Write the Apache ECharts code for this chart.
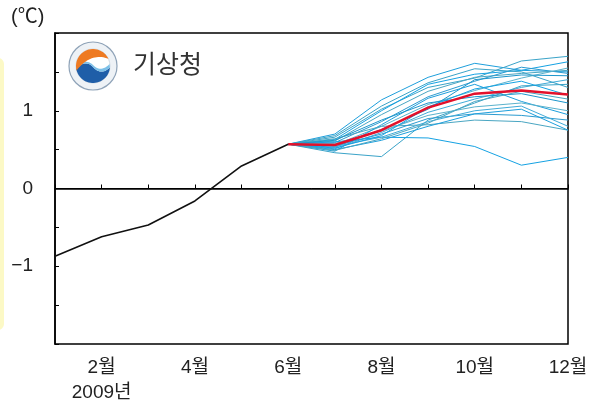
<!DOCTYPE html>
<html>
<head>
<meta charset="utf-8">
<script src="https://cdn.jsdelivr.net/npm/echarts@6/dist/echarts.min.js"></script>
<style>html,body{margin:0;padding:0;background:#fff;}#c{width:600px;height:405px;}</style>
</head>
<body>
<div id="c"></div>
<script>
// ---- data ----
const obsMonths = [1, 2, 3, 4, 5, 6];
const obsValues = [-0.87, -0.62, -0.47, -0.16, 0.29, 0.57];
const fcstMonths = [6, 7, 8, 9, 10, 11, 12];
const meanValues = [0.57, 0.56, 0.75, 1.04, 1.22, 1.26, 1.21];
const m01 = [0.57, 0.70, 1.14, 1.43, 1.61, 1.52, 1.50];
const m02 = [0.57, 0.66, 1.02, 1.30, 1.42, 1.64, 1.70];
const m03 = [0.57, 0.63, 1.00, 1.34, 1.47, 1.52, 1.63];
const m04 = [0.57, 0.61, 0.95, 1.25, 1.43, 1.48, 1.52];
const m05 = [0.57, 0.59, 0.86, 1.18, 1.38, 1.56, 1.48];
const m06 = [0.57, 0.56, 0.80, 1.08, 1.26, 1.42, 1.55];
const m07 = [0.57, 0.53, 0.76, 1.02, 1.40, 1.46, 1.45];
const m08 = [0.57, 0.51, 0.72, 0.98, 1.15, 1.30, 1.40];
const m09 = [0.57, 0.48, 0.82, 1.16, 1.34, 1.12, 0.95];
const m10 = [0.57, 0.46, 0.41, 0.88, 1.10, 1.32, 1.34];
const m11 = [0.57, 0.60, 0.66, 0.65, 0.54, 0.30, 0.40];
const m12 = [0.57, 0.64, 0.80, 0.82, 0.88, 0.86, 0.75];
const m13 = [0.57, 0.55, 0.70, 0.90, 0.96, 0.94, 0.88];
const m14 = [0.57, 0.58, 0.74, 0.94, 1.05, 1.10, 1.00];
const m15 = [0.57, 0.62, 0.88, 1.10, 1.18, 1.22, 1.10];
const m16 = [0.57, 0.54, 0.66, 0.86, 1.00, 1.06, 0.80];
const m17 = [0.57, 0.50, 0.62, 0.80, 0.96, 1.02, 0.75];
const m18 = [0.57, 0.68, 1.06, 1.36, 1.54, 1.50, 1.30];
const m19 = [0.57, 0.52, 0.68, 1.05, 1.28, 1.38, 1.20];
const m20 = [0.57, 0.49, 0.64, 0.84, 1.12, 1.25, 1.15];
const members = [m01, m02, m03, m04, m05, m06, m07, m08, m09, m10,
                 m11, m12, m13, m14, m15, m16, m17, m18, m19, m20];
const yearLabel = '2009년';
const unitLabel = '(℃)';
const logoText = '기상청';

// ---- chart ----
const blues = ['#1e9fdc', '#3aa3c8', '#15a2e3', '#4aa6c2', '#2b9bd0', '#5ab2cc', '#1c96cc', '#40abd8'];
const FONT = '"Liberation Sans", "Noto Sans CJK KR", sans-serif';
const zip = (xs, ys) => xs.map((x, i) => [x, ys[i]]);

const series = [];
members.forEach((m, i) => {
  series.push({
    type: 'line', data: zip(fcstMonths, m), symbol: 'none', silent: true,
    lineStyle: { color: blues[i % blues.length], width: 1 }, z: 2
  });
});
series.push({
  type: 'line', data: zip(fcstMonths, meanValues), symbol: 'none',
  lineStyle: { color: '#e3102a', width: 2.5 }, z: 4
});
series.push({
  type: 'line', data: zip(obsMonths, obsValues), symbol: 'none',
  lineStyle: { color: '#111', width: 1.6 }, z: 5,
  markLine: {
    silent: true, symbol: 'none', label: { show: false },
    lineStyle: { color: '#000', width: 1, type: 'solid' },
    data: [{ yAxis: 0 }]
  }
});

// logo geometry helpers (decoration only)
const LX = 93, LY = 66, LR = 17;
function arcPts(a0, a1, n) {
  const pts = [];
  for (let i = 0; i <= n; i++) {
    const a = (a0 + (a1 - a0) * i / n) * Math.PI / 180;
    pts.push([LX + LR * Math.cos(a), LY - LR * Math.sin(a)]);
  }
  return pts;
}
function quadPts(p0, c, p1, n) {
  const pts = [];
  for (let i = 0; i <= n; i++) {
    const t = i / n;
    pts.push([(1 - t) * (1 - t) * p0[0] + 2 * (1 - t) * t * c[0] + t * t * p1[0],
              (1 - t) * (1 - t) * p0[1] + 2 * (1 - t) * t * c[1] + t * t * p1[1]]);
  }
  return pts;
}
const orangeOuter = arcPts(195, 25, 30);
const orangePts = orangeOuter.concat(quadPts(orangeOuter[orangeOuter.length - 1], [LX - 2, LY - 14], orangeOuter[0], 20));
const blueOuter = arcPts(190, 355, 30);
const waveBack = quadPts(blueOuter[blueOuter.length - 1], [LX + 8, LY + 10], [LX, LY + 1], 12)
  .concat(quadPts([LX, LY + 1], [LX - 8, LY - 7], blueOuter[0], 12));
const bluePts = blueOuter.concat(waveBack);
const lightPts = quadPts([LX - 16.5, LY + 3], [LX - 8, LY - 9], [LX, LY - 1], 12)
  .concat(quadPts([LX, LY - 1], [LX + 8, LY + 7], [LX + 16.5, LY - 2], 12))
  .concat(waveBack);

const chart = echarts.init(document.getElementById('c'));
chart.setOption({
  animation: false,
  backgroundColor: '#fff',
  grid: { left: 55, right: 32, top: 33, bottom: 61, show: true, borderColor: '#000', borderWidth: 1.5, backgroundColor: 'transparent' },
  xAxis: {
    type: 'value', min: 1, max: 12, interval: 1,
    axisLine: { lineStyle: { color: '#000', width: 1.5 } },
    axisTick: { inside: true, length: 4, lineStyle: { color: '#000' } },
    splitLine: { show: false },
    axisLabel: {
      margin: 11, color: '#222', fontSize: 19, fontFamily: FONT, lineHeight: 25,
      formatter: v => (v % 2 === 0 ? (v === 2 ? v + '월\n' + yearLabel : v + '월') : '')
    }
  },
  yAxis: {
    type: 'value', min: -2, max: 2, interval: 0.5,
    axisLine: { lineStyle: { color: '#000', width: 1.5 } },
    axisTick: { inside: true, length: 4, lineStyle: { color: '#000' } },
    splitLine: { show: false },
    axisLabel: {
      margin: 22, color: '#222', fontSize: 19, fontFamily: FONT,
      formatter: v => (Number.isInteger(v) && Math.abs(v) < 2 ? (v < 0 ? '\u2212' + Math.abs(v) : String(v)) : '')
    }
  },
  graphic: [
    { type: 'rect', shape: { x: -12, y: 58, width: 16, height: 272, r: 6 }, style: { fill: '#fcf9c6' }, z: 0 },
    { type: 'text', x: 11, y: 7, style: { text: unitLabel, fontSize: 20, fontFamily: FONT, fill: '#222' } },
    { type: 'circle', shape: { cx: LX, cy: LY, r: 24 }, style: { fill: '#eef2f6', stroke: '#8fa3b8', lineWidth: 1.2 }, z: 10 },
    { type: 'circle', shape: { cx: LX, cy: LY, r: LR }, style: { fill: '#fff', stroke: '#c9d3dd', lineWidth: 0.8 }, z: 10 },
    { type: 'polygon', shape: { points: bluePts }, style: { fill: '#1f5ea8' }, z: 11 },
    { type: 'polygon', shape: { points: lightPts }, style: { fill: '#7cc0e8' }, z: 11 },
    { type: 'polygon', shape: { points: orangePts }, style: { fill: '#ee7a22' }, z: 11 },
    { type: 'text', x: 133, y: 51, style: { text: logoText, fontSize: 25, fontFamily: '"Noto Sans CJK KR", sans-serif', fill: '#333' }, z: 10 }
  ],
  series: series
});
</script>
</body>
</html>
